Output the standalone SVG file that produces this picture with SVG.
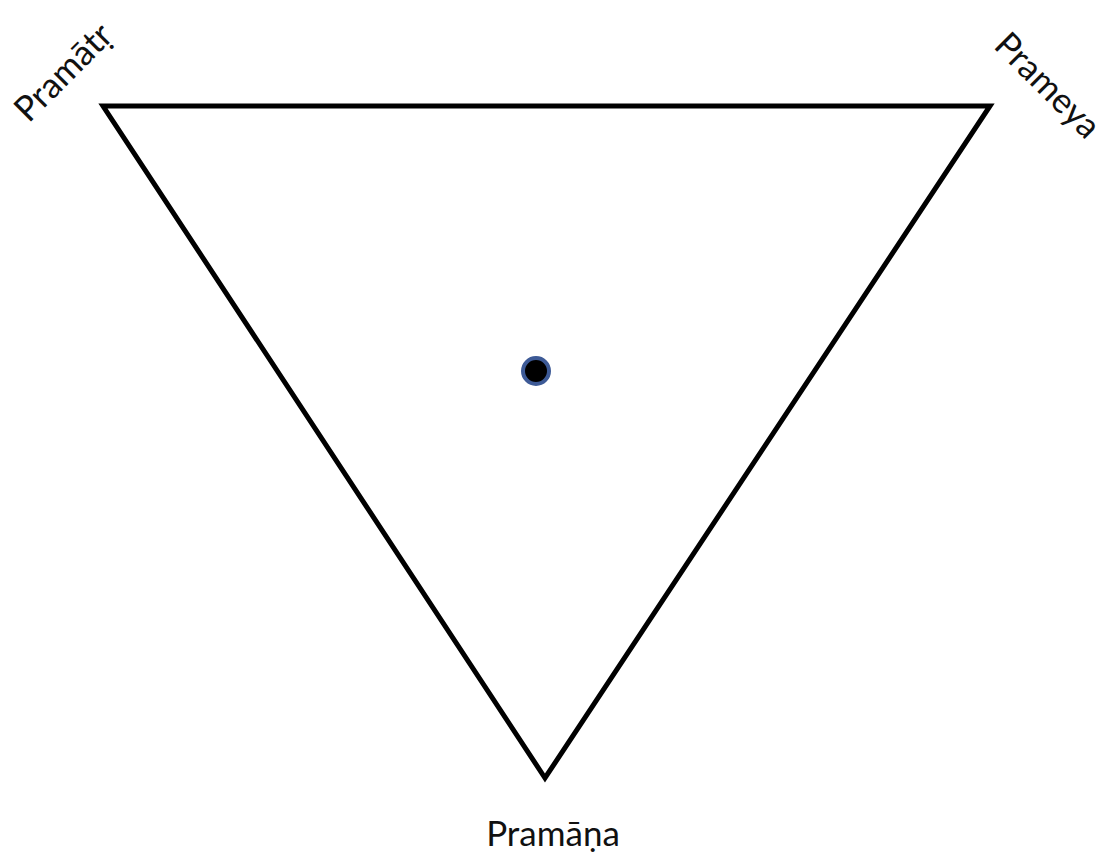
<svg xmlns="http://www.w3.org/2000/svg" width="1110" height="856" viewBox="0 0 1110 856">
<style>
.lbl{font-family:Lato,"Noto Sans","Liberation Sans",sans-serif;font-size:35px;fill:#111;text-anchor:middle}
</style>
<rect width="1110" height="856" fill="#fff"/>
<g id="connectors">
<polygon points="103,106 990,106 545,778" fill="none" stroke="#000" stroke-width="5" stroke-linejoin="miter"/>
</g>
<g id="center"><circle cx="536" cy="371" r="13" fill="#000" stroke="#3d5a96" stroke-width="4"/></g>
<g id="pramatr"><text class="lbl" transform="translate(64,73) rotate(-45)" y="11">Pramātṛ</text></g>
<g id="prameya"><text class="lbl" transform="translate(1047,86) rotate(45)" y="11">Prameya</text></g>
<g id="pramana"><text class="lbl" x="553" y="846">Pramāṇa</text></g>
</svg>
